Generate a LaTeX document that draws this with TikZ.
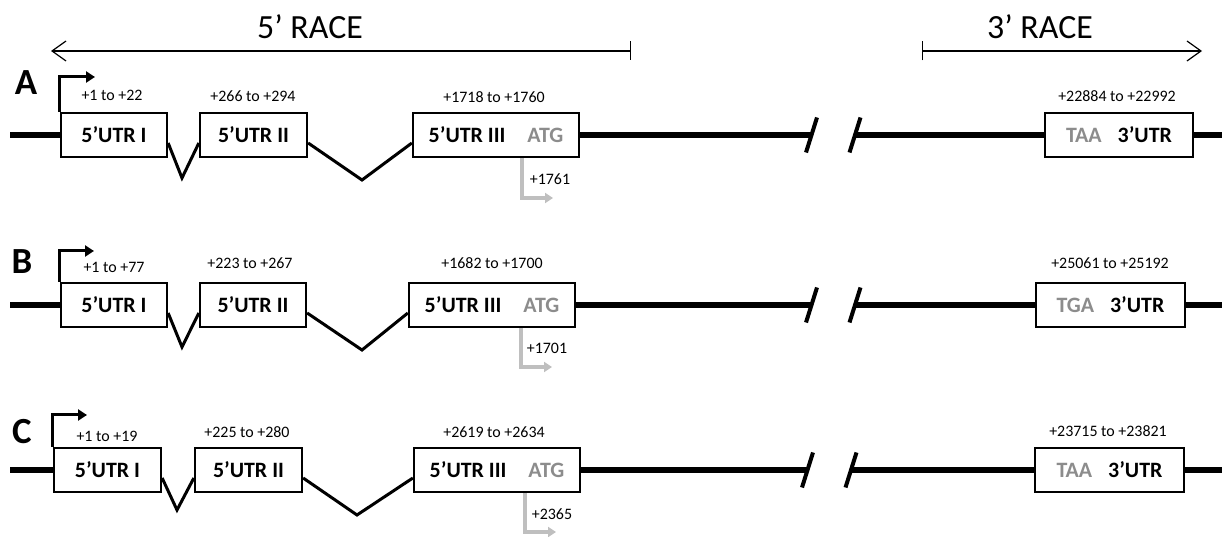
\documentclass[tikz,border=0pt]{standalone}
\usepackage{fontspec}
\setmainfont{Carlito}
\usetikzlibrary{arrows.meta}
\definecolor{atggray}{HTML}{8C8C8C}
\definecolor{lightarrow}{HTML}{BFBFBF}
\begin{document}
\begin{tikzpicture}[x=1bp,y=-1bp,
  backbone/.style={line width=5.5bp},
  exon/.style={draw, line width=2.3bp, fill=white, minimum height=44bp, inner sep=0pt, font=\fontsize{22}{24}\selectfont\bfseries},
  intron/.style={line width=3bp, line join=miter},
  poslabel/.style={font=\fontsize{16}{18}\selectfont, inner sep=0pt},
  rowletter/.style={font=\fontsize{37}{40}\selectfont\bfseries, inner sep=0pt},
  promoter/.style={line width=3bp, -{Triangle[length=9bp,width=11bp]}},
  startcodon/.style={line width=3.5bp, draw=lightarrow, -{Triangle[length=8bp,width=10bp]}},
  breakmark/.style={line width=4bp},
  racearrow/.style={line width=1.2bp},
  racelabel/.style={font=\fontsize{34}{36}\selectfont, inner sep=0pt}]
\useasboundingbox (0,0) rectangle (1222,537);

% ---------- RACE arrows ----------
\node[racelabel] (r5) at (310,27) {5’ RACE};
\node[racelabel] (r3) at (1040,27) {3’ RACE};
\coordinate (r5l) at (51,51);
\coordinate (r5r) at (631,51);
\coordinate (r3l) at (922,51);
\coordinate (r3r) at (1202,51);
\draw[racearrow, {Straight Barb[length=14bp,width=20bp]}-{Bar[width=19bp]}] (r5l) -- (r5r);
\draw[racearrow, {Bar[width=19bp]}-{Straight Barb[length=14bp,width=20bp]}] (r3l) -- (r3r);

% ---------- Row A (line y = 135) ----------
\node[rowletter] (la) at (26,83) {A};
\coordinate (aStart) at (10,135);
\coordinate (aEnd) at (1222,135);
\coordinate (aS1) at (811.5,135);
\coordinate (aS2) at (855,135);
\node[exon, minimum width=106bp] (a1) at (114,135) {5’UTR I};
\node[exon, minimum width=107bp] (a2) at (253.5,135) {5’UTR II};
\node[exon, minimum width=166bp] (a3) at (496,135) {5’UTR III\hspace{22bp}\textcolor{atggray}{ATG}};
\node[exon, minimum width=148bp] (a4) at (1119,135) {\textcolor{atggray}{TAA}\hspace{16bp}3’UTR};
\draw[backbone] (aStart) -- (a1.west);
\draw[backbone] (a3.east) -- (aS1);
\draw[backbone] (aS2) -- (a4.west);
\draw[backbone] (a4.east) -- (aEnd);
\draw[breakmark] ([xshift=-5.5bp,yshift=-17.5bp]aS1) -- ([xshift=5.5bp,yshift=17.5bp]aS1);
\draw[breakmark] ([xshift=-5.5bp,yshift=-17.5bp]aS2) -- ([xshift=5.5bp,yshift=17.5bp]aS2);
\coordinate (aV1) at (182,178);
\coordinate (aV2) at (362,180);
\draw[intron] ([yshift=-8bp]a1.east) -- (aV1) -- ([yshift=-8bp]a2.west);
\draw[intron] ([yshift=-8bp]a2.east) -- (aV2) -- ([yshift=-8bp]a3.west);
\coordinate (aP) at (95,77);
\draw[promoter] (a1.north west) |- (aP);
\coordinate (aV) at (522,198);
\coordinate (aT) at (553,198);
\draw[startcodon] (aV |- a3.south) -- (aV) -- (aT);
\node[poslabel] (a1l) at (112,95) {+1 to +22};
\node[poslabel] (a2l) at (253,96) {+266 to +294};
\node[poslabel] (a3l) at (494,97) {+1718 to +1760};
\node[poslabel] (a4l) at (1117,96) {+22884 to +22992};
\node[poslabel] (aAtg) at (550,179) {+1761};

% ---------- Row B (line y = 305) ----------
\node[rowletter] (lb) at (22,262) {B};
\coordinate (bStart) at (10,305);
\coordinate (bEnd) at (1222,305);
\coordinate (bS1) at (811.5,305);
\coordinate (bS2) at (855,305);
\node[exon, minimum width=106bp] (b1) at (114,305) {5’UTR I};
\node[exon, minimum width=106bp] (b2) at (253,305) {5’UTR II};
\node[exon, minimum width=166bp] (b3) at (492,305) {5’UTR III\hspace{22bp}\textcolor{atggray}{ATG}};
\node[exon, minimum width=149bp] (b4) at (1110.5,305) {\textcolor{atggray}{TGA}\hspace{16bp}3’UTR};
\draw[backbone] (bStart) -- (b1.west);
\draw[backbone] (b3.east) -- (bS1);
\draw[backbone] (bS2) -- (b4.west);
\draw[backbone] (b4.east) -- (bEnd);
\draw[breakmark] ([xshift=-5.5bp,yshift=-17.5bp]bS1) -- ([xshift=5.5bp,yshift=17.5bp]bS1);
\draw[breakmark] ([xshift=-5.5bp,yshift=-17.5bp]bS2) -- ([xshift=5.5bp,yshift=17.5bp]bS2);
\coordinate (bV1) at (182,347);
\coordinate (bV2) at (362,350);
\draw[intron] ([yshift=-8bp]b1.east) -- (bV1) -- ([yshift=-8bp]b2.west);
\draw[intron] ([yshift=-8bp]b2.east) -- (bV2) -- ([yshift=-8bp]b3.west);
\coordinate (bP) at (94,251);
\draw[promoter] (b1.north west) |- (bP);
\coordinate (bV) at (521,367);
\coordinate (bT) at (552,367);
\draw[startcodon] (bV |- b3.south) -- (bV) -- (bT);
\node[poslabel] (b1l) at (114,267) {+1 to +77};
\node[poslabel] (b2l) at (250,263) {+223 to +267};
\node[poslabel] (b3l) at (492,263) {+1682 to +1700};
\node[poslabel] (b4l) at (1110,263) {+25061 to +25192};
\node[poslabel] (bAtg) at (547,348) {+1701};

% ---------- Row C (line y = 470) ----------
\node[rowletter] (lc) at (22,432) {C};
\coordinate (cStart) at (10,470);
\coordinate (cEnd) at (1222,470);
\coordinate (cS1) at (807.5,470);
\coordinate (cS2) at (851,470);
\node[exon, minimum width=107bp] (c1) at (107.5,470) {5’UTR I};
\node[exon, minimum width=107bp] (c2) at (248.5,470) {5’UTR II};
\node[exon, minimum width=166bp] (c3) at (497,470) {5’UTR III\hspace{22bp}\textcolor{atggray}{ATG}};
\node[exon, minimum width=149bp] (c4) at (1109.5,470) {\textcolor{atggray}{TAA}\hspace{16bp}3’UTR};
\draw[backbone] (cStart) -- (c1.west);
\draw[backbone] (c3.east) -- (cS1);
\draw[backbone] (cS2) -- (c4.west);
\draw[backbone] (c4.east) -- (cEnd);
\draw[breakmark] ([xshift=-5.5bp,yshift=-17.5bp]cS1) -- ([xshift=5.5bp,yshift=17.5bp]cS1);
\draw[breakmark] ([xshift=-5.5bp,yshift=-17.5bp]cS2) -- ([xshift=5.5bp,yshift=17.5bp]cS2);
\coordinate (cV1) at (177,510);
\coordinate (cV2) at (357,515);
\draw[intron] ([yshift=-8bp]c1.east) -- (cV1) -- ([yshift=-8bp]c2.west);
\draw[intron] ([yshift=-8bp]c2.east) -- (cV2) -- ([yshift=-8bp]c3.west);
\coordinate (cP) at (87,415);
\draw[promoter] (c1.north west) |- (cP);
\coordinate (cV) at (525,532);
\coordinate (cT) at (556,532);
\draw[startcodon] (cV |- c3.south) -- (cV) -- (cT);
\node[poslabel] (c1l) at (107,436) {+1 to +19};
\node[poslabel] (c2l) at (247,432) {+225 to +280};
\node[poslabel] (c3l) at (494,432) {+2619 to +2634};
\node[poslabel] (c4l) at (1108,431) {+23715 to +23821};
\node[poslabel] (cAtg) at (552,514) {+2365};
\end{tikzpicture}
\end{document}
